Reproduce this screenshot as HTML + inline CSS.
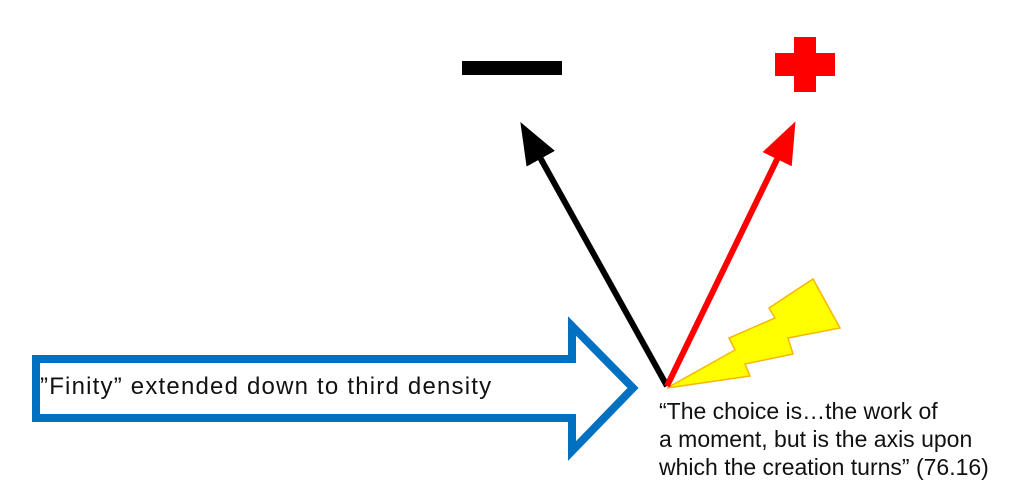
<!DOCTYPE html>
<html><head><style>
body{margin:0;background:#fff;width:1024px;height:503px;overflow:hidden;position:relative;font-family:"Liberation Sans",sans-serif}
.t{position:absolute;color:#111;font-size:23px;white-space:nowrap}
</style></head><body>
<svg width="1024" height="503" style="position:absolute;left:0;top:0">
<defs>
<marker id="hb" markerWidth="7" markerHeight="6" refX="3" refY="3" orient="auto" markerUnits="strokeWidth"><path d="M0,0.3 L7,3 L0,5.7 z" fill="#000"/></marker>
<marker id="hr" markerWidth="7" markerHeight="6" refX="3" refY="3" orient="auto" markerUnits="strokeWidth"><path d="M0,0.3 L7,3 L0,5.7 z" fill="#f00"/></marker>
</defs>
<polygon points="36,359 572,359 572,326 633,388 572,451 572,418 36,418" fill="#fff" stroke="#0070c0" stroke-width="8"/>
<polygon points="667,388 750,376 745,364 793,354 788,338 840,328 813,279 769,308 775,318 729,338 735,350" fill="#ff0" stroke="#f5b800" stroke-width="1.5"/>
<line x1="667" y1="386" x2="532" y2="143" stroke="#000" stroke-width="6" marker-end="url(#hb)"/>
<line x1="667" y1="386" x2="785" y2="143" stroke="#f00" stroke-width="6" marker-end="url(#hr)"/>
<rect x="462" y="61" width="100" height="14" fill="#000"/>
<rect x="794" y="37" width="22" height="55" fill="#f00"/>
<rect x="775" y="53" width="60" height="23" fill="#f00"/>
</svg>
<div class="t" style="left:40px;top:373px;font-size:24px;letter-spacing:1.2px">”Finity” extended down to third density</div>
<div class="t" style="left:659px;top:397px;line-height:28px">“The choice is…the work of<br>a moment, but is the axis upon<br>which the creation turns” (76.16)</div>
</body></html>
